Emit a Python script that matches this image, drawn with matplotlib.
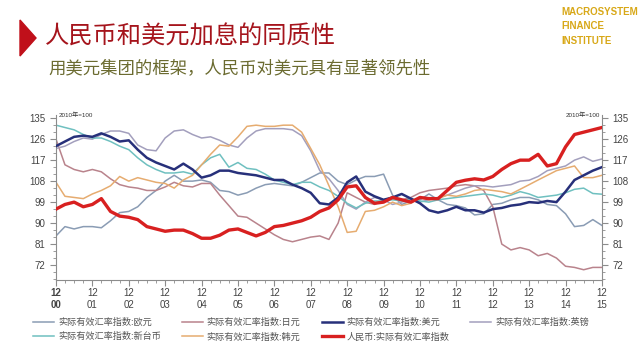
# real effective exchange rate indices, Dec 2000 - Dec 2015 (2010 = 100)
import numpy as np
import pandas as pd
import matplotlib
matplotlib.use("Agg")
import matplotlib.pyplot as plt
import matplotlib.dates as mdates
from matplotlib.patches import Polygon
from matplotlib.ticker import MultipleLocator

plt.rcParams['font.family'] = ['Liberation Sans', 'Noto Sans CJK SC', 'DejaVu Sans']

# quarterly points
dates = pd.date_range('2000-12-01', '2015-12-01', freq='QS-DEC')

eur = [84.5, 88.5, 87.5, 88.5, 88.5, 88, 91, 94.5, 95, 97, 101, 104, 108,
       110.5, 108, 108, 108.5, 107.5, 104, 103.5, 102, 103, 105, 106.5, 107,
       106.5, 106, 107.5, 109.5, 111.5, 111.5, 108, 106.5, 108.5, 110, 110, 111,
       102, 98, 99.5, 100, 102.5, 100, 98, 97.5, 96.5, 93.5, 94, 98,
       98.5, 100, 101, 101, 100, 98, 97.5, 94, 88.5, 89, 91.5, 89]
jpy = [126, 115, 113, 112, 113, 112, 109, 106.5, 105.5, 105, 104, 104, 105.5,
       107.5, 106, 105.5, 107, 107, 102, 97.5, 93, 92.5, 90, 87.5, 85,
       83, 82, 83, 84, 84.5, 83, 90, 103, 101, 99, 98, 100,
       101, 100, 101, 103, 104, 104.5, 105, 106, 106.5, 106, 104, 97,
       81, 78.5, 79.5, 78.5, 76, 77, 75, 71.5, 71, 70, 71, 71]
usd = [123, 125, 127, 127.5, 127, 128.5, 127, 125, 125.5, 121.5, 118, 116, 114.5,
       113, 115.5, 113, 109.5, 110.5, 112.5, 112.5, 111.5, 111, 110.5, 109.5, 108.5,
       108.5, 106.5, 105, 103, 98.5, 98, 101, 107.5, 110, 103.5, 101.5, 100,
       101, 102.5, 100.5, 98.5, 95.5, 94.5, 95.5, 97, 95.5, 95.5, 94.5, 96,
       96.5, 97.5, 98, 99, 98.7, 99.5, 99, 103.5, 108.5, 110.5, 112.5, 114]
gbp = [122, 123, 125, 126.5, 126, 128, 129.5, 129.5, 128.5, 123.5, 121.5, 121, 126.5,
       129.5, 130, 128, 126.5, 127, 125.5, 123.5, 122.5, 126.5, 129.5, 130.5, 130.5,
       130.5, 130, 127.5, 121, 112.5, 109, 104, 98, 96, 99, 101, 100,
       98, 99, 100, 99, 100, 101, 102, 103.5, 105, 106, 106, 105.5,
       106, 106.5, 108, 108.4, 110, 112.5, 113.5, 114.5, 117, 118.4, 116.5, 117.5]
twd = [132, 131, 130, 128, 126.5, 126.5, 125, 123, 121.5, 118, 115, 113, 111.5,
       111.5, 112, 111, 115, 118, 119.5, 114, 116, 113.5, 113, 111, 108.5,
       107.5, 106.5, 107.5, 107.5, 105.5, 104, 101.5, 98.5, 96.5, 98.5, 99.5, 99.5,
       100, 99.5, 100.5, 99.5, 99, 100, 100.5, 101, 101.5, 102, 102.5, 102,
       101, 102, 103.5, 102.5, 101, 101.5, 102, 103, 104.5, 105, 102.7, 102.4]
krw = [107.5, 101.5, 101, 100.5, 102.5, 104, 106, 110, 108, 109.5, 108.5, 107.5, 107,
       105, 108.5, 110.5, 115, 119.5, 123.5, 123, 127, 131.5, 132, 131.5, 131.5,
       132, 132, 129, 122, 115, 106, 97, 86, 86.5, 95, 95.5, 97,
       99, 97.5, 98.5, 101, 100, 100.5, 102, 101.5, 102.5, 104, 104.5, 104,
       103.5, 102.5, 104.5, 106.5, 108.5, 110.5, 112.5, 113.5, 114.5, 109.5, 109.5, 110.5]
cny = [96, 98, 99, 97, 98, 100.5, 95, 93, 92.5, 91.5, 88.5, 87.5, 86.5,
       87, 87, 85.5, 83.5, 83.5, 84.8, 87, 87.5, 86, 84.5, 86, 88.5,
       89, 90, 91, 92.5, 95, 96.5, 100, 105.5, 106, 101, 98.5, 99,
       101, 100, 99, 101, 100.5, 100.5, 104, 107.5, 108.4, 109, 108.5, 110,
       113, 115.5, 117, 117, 119.5, 114.5, 115.5, 122.7, 128, 129, 130, 131]

labels = ['实际有效汇率指数:欧元', '实际有效汇率指数:日元', '实际有效汇率指数:美元',
          '实际有效汇率指数:英镑', '实际有效汇率指数:新台币', '实际有效汇率指数:韩元',
          '人民币:实际有效汇率指数']
colors = ['#8a9cb4', '#b9838c', '#27307a', '#a39fbd', '#6fc0c0', '#e6ac70', '#d82020']
widths = [1.1, 1.1, 1.8, 1.1, 1.1, 1.1, 2.4]
series = [eur, jpy, usd, gbp, twd, krw, cny]
yticks = [72, 81, 90, 99, 108, 117, 126, 135]

fig = plt.figure(figsize=(6.4, 3.53), dpi=100)
ax = fig.add_axes([0.0875, 0.2068, 0.853, 0.467])

lines = []
for i, (s, c, w, lab) in enumerate(zip(series, colors, widths, labels)):
    z = 2 + (2 if i == 6 else (1 if i == 2 else 0))
    ln, = ax.plot(dates, s, color=c, lw=w, label=lab, zorder=z)
    lines.append(ln)

ax.set_xlim(dates[0], dates[-1])
ax.set_ylim(65.6, 136.3)
ax.set_yticks(yticks)
ax.yaxis.set_minor_locator(MultipleLocator(3))
ax.xaxis.set_major_locator(mdates.MonthLocator(bymonth=12))
ax.xaxis.set_minor_locator(mdates.MonthLocator(bymonth=[3, 6, 9]))
ax.xaxis.set_major_formatter(mdates.DateFormatter('%m\n%y'))

ax.spines['top'].set_visible(False)
for side in ['left', 'right', 'bottom']:
    ax.spines[side].set_color('#8c8c8c')
    ax.spines[side].set_linewidth(0.8)
ax.tick_params(axis='both', which='both', direction='out', colors='#8c8c8c',
               labelcolor='#444444', labelsize=7)
ax.tick_params(axis='y', which='both', right=True, labelright=True)
ax.tick_params(which='major', length=4)
ax.tick_params(which='minor', length=2.5)
ax.tick_params(axis='x', pad=2)

fig.canvas.draw()
ax.get_xticklabels()[0].set_fontweight('bold')

ax.text(0.004, 1.0, '2010年=100', transform=ax.transAxes, fontsize=4.5,
        color='#333333', ha='left', va='center')
ax.text(0.996, 1.0, '2010年=100', transform=ax.transAxes, fontsize=4.5,
        color='#333333', ha='right', va='center')

# legend filled column by column
order = [0, 4, 1, 5, 2, 6, 3]
fig.legend([lines[i] for i in order], [labels[i] for i in order], ncol=4,
           loc='upper left', bbox_to_anchor=(0.052, 0.1), frameon=False,
           fontsize=6.6, handlelength=2.3, handletextpad=0.4, columnspacing=2.3,
           labelspacing=0.6, borderpad=0, borderaxespad=0, labelcolor='#555555')

# header
fig.patches.append(Polygon([[20 / 640, 1 - 20 / 353], [20 / 640, 1 - 56 / 353],
                            [36 / 640, 1 - 38 / 353]], closed=True,
                           transform=fig.transFigure, color='#c0101a'))
fig.text(45 / 640, 1 - 37 / 353, '人民币和美元加息的同质性', fontsize=17.5,
         color='#a5141c', ha='left', va='center')
fig.text(48 / 640, 1 - 68 / 353, '用美元集团的框架，人民币对美元具有显著领先性',
         fontsize=12.5, color='#6b6b30', ha='left', va='center')
fig.text(561 / 640, 1 - 7 / 353, 'MACROSYSTEM\nFINANCE\nINSTITUTE', fontsize=7,
         fontweight='bold', color='#d8a818', ha='left', va='top',
         linespacing=1.55)

fig.savefig('out.png', dpi=100)
